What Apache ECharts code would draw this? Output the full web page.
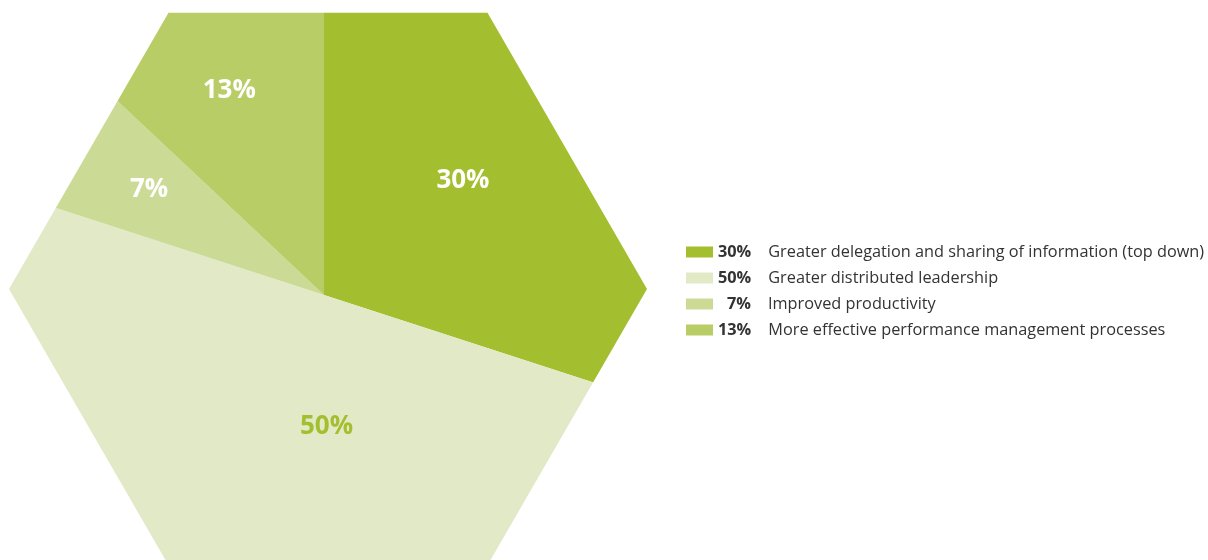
<!DOCTYPE html>
<html>
<head>
<meta charset="utf-8">
<script src="https://cdn.jsdelivr.net/npm/echarts@6/dist/echarts.min.js"></script>
<style>
  html, body { margin: 0; padding: 0; background: #ffffff; }
  #chart { width: 1208px; height: 560px; }
</style>
</head>
<body>
<div id="chart"></div>
<script>
// Survey answers and their shares (percent)
const categories = [
  'Greater delegation and sharing of information (top down)',
  'Greater distributed leadership',
  'Improved productivity',
  'More effective performance management processes'
];
const shares = [30, 50, 7, 13];

const sliceColors = ['#a3bf2f', '#e2e9c7', '#cbdb96', '#b8cd66'];
const labelColors = ['#ffffff', '#a3bf2f', '#ffffff', '#ffffff'];
// nudges of the in-slice percentage labels away from the default inside position
const labelNudge = [[-1, -13], [56, -33], [-26, -17], [-26, -46]];

const FONT = '"Open Sans", "Noto Sans", sans-serif';
const LEGEND_SIZE = 16.3;
const PCT_BOX = 33;

// width of a bold legend percentage, used to right-align it in its column
const measureCtx = document.createElement('canvas').getContext('2d');
function pctWidth(txt) {
  measureCtx.font = 'bold ' + LEGEND_SIZE + 'px ' + FONT;
  return measureCtx.measureText(txt).width;
}

// hexagonal frame the pie is cut to
const hex = { cx: 328, cy: 289, r: 319 };
function hexMask() {
  const h = hex.r * Math.sqrt(3) / 2;
  const v = [
    [hex.cx + hex.r, hex.cy],
    [hex.cx + hex.r / 2, hex.cy + h],
    [hex.cx - hex.r / 2, hex.cy + h],
    [hex.cx - hex.r, hex.cy],
    [hex.cx - hex.r / 2, hex.cy - h],
    [hex.cx + hex.r / 2, hex.cy - h]
  ];
  const L = -40, T = -40, R = hex.cx + hex.r + 25, B = 620;
  // outer box clockwise, inner hexagon the other way round -> hole
  return [
    [L, T], [R, T], [R, B], [L, B], [L, hex.cy],
    v[3], v[2], v[1], v[0], v[5], v[4], v[3],
    [L, hex.cy]
  ];
}

function buildOption() {
  const rich = {
    n: { fontFamily: FONT, fontSize: LEGEND_SIZE, color: '#333333', padding: [0, 0, 0, 17], lineHeight: 17 }
  };
  shares.forEach(function (s, i) {
    const pad = Math.max(0, PCT_BOX - pctWidth(s + '%'));
    rich['p' + i] = {
      fontFamily: FONT, fontWeight: 'bold', fontSize: LEGEND_SIZE, color: '#333333',
      padding: [0, 0, 0, pad], lineHeight: 17
    };
  });

  return {
    backgroundColor: '#ffffff',
    animation: false,
    textStyle: { fontFamily: FONT },
    legend: {
      orient: 'vertical',
      left: 686,
      top: 244,
      padding: 0,
      icon: 'rect',
      itemWidth: 27,
      itemHeight: 11,
      itemGap: 10,
      selectedMode: false,
      data: categories,
      formatter: function (name) {
        const i = categories.indexOf(name);
        return '{p' + i + '|' + shares[i] + '%}{n|' + name + '}';
      },
      textStyle: {
        fontFamily: FONT,
        color: '#333333',
        fontSize: LEGEND_SIZE,
        rich: rich
      }
    },
    graphic: [{
      type: 'polygon',
      z: 100,
      silent: true,
      shape: { points: hexMask() },
      style: { fill: '#ffffff' }
    }],
    series: [{
      type: 'pie',
      center: [324, 295],
      radius: [0, 340],
      startAngle: 90,
      clockwise: true,
      silent: true,
      avoidLabelOverlap: false,
      itemStyle: { borderWidth: 0 },
      label: {
        show: true,
        position: 'inside',
        fontFamily: FONT,
        fontWeight: 'bold',
        fontSize: 26,
        formatter: function (p) { return p.value + '%'; }
      },
      labelLine: { show: false },
      labelLayout: function (params) {
        const n = labelNudge[params.dataIndex];
        return { dx: n[0], dy: n[1] };
      },
      data: categories.map(function (name, i) {
        return {
          name: name,
          value: shares[i],
          itemStyle: { color: sliceColors[i] },
          label: { color: labelColors[i] }
        };
      })
    }]
  };
}

const chart = echarts.init(document.getElementById('chart'), null, { renderer: 'canvas' });
chart.setOption(buildOption());
</script>
</body>
</html>
